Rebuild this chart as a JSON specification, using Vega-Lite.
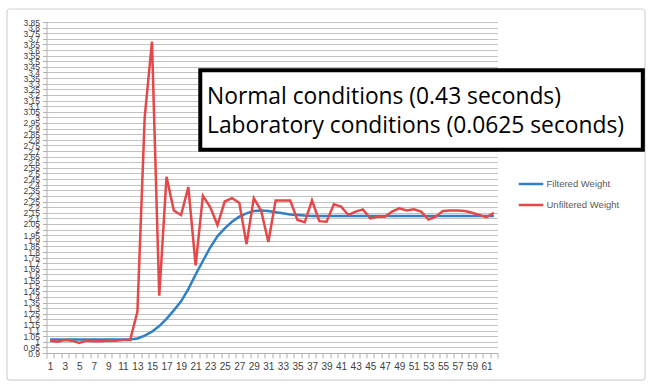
{
  "$schema": "https://vega.github.io/schema/vega-lite/v6.json",
  "width": 451,
  "height": 331,
  "autosize": {"type": "none"},
  "padding": {"left": 46.5, "top": 22, "right": 153.5, "bottom": 35},
  "background": "white",
  "config": {
    "view": {"stroke": null},
    "font": "Liberation Sans"
  },
  "resolve": {"scale": {"x": "independent", "y": "independent"}},
  "datasets": {
    "weights": [
      {"x":1,"series":"Filtered Weight","value":1.02},{"x":2,"series":"Filtered Weight","value":1.02},{"x":3,"series":"Filtered Weight","value":1.02},{"x":4,"series":"Filtered Weight","value":1.02},{"x":5,"series":"Filtered Weight","value":1.02},{"x":6,"series":"Filtered Weight","value":1.02},{"x":7,"series":"Filtered Weight","value":1.02},{"x":8,"series":"Filtered Weight","value":1.02},{"x":9,"series":"Filtered Weight","value":1.02},{"x":10,"series":"Filtered Weight","value":1.02},
      {"x":11,"series":"Filtered Weight","value":1.02},{"x":12,"series":"Filtered Weight","value":1.02},{"x":13,"series":"Filtered Weight","value":1.03},{"x":14,"series":"Filtered Weight","value":1.055},{"x":15,"series":"Filtered Weight","value":1.09},{"x":16,"series":"Filtered Weight","value":1.14},{"x":17,"series":"Filtered Weight","value":1.205},{"x":18,"series":"Filtered Weight","value":1.28},{"x":19,"series":"Filtered Weight","value":1.36},{"x":20,"series":"Filtered Weight","value":1.47},
      {"x":21,"series":"Filtered Weight","value":1.6},{"x":22,"series":"Filtered Weight","value":1.72},{"x":23,"series":"Filtered Weight","value":1.84},{"x":24,"series":"Filtered Weight","value":1.94},{"x":25,"series":"Filtered Weight","value":2.01},{"x":26,"series":"Filtered Weight","value":2.07},{"x":27,"series":"Filtered Weight","value":2.115},{"x":28,"series":"Filtered Weight","value":2.145},{"x":29,"series":"Filtered Weight","value":2.165},{"x":30,"series":"Filtered Weight","value":2.17},
      {"x":31,"series":"Filtered Weight","value":2.165},{"x":32,"series":"Filtered Weight","value":2.155},{"x":33,"series":"Filtered Weight","value":2.145},{"x":34,"series":"Filtered Weight","value":2.135},{"x":35,"series":"Filtered Weight","value":2.13},{"x":36,"series":"Filtered Weight","value":2.125},{"x":37,"series":"Filtered Weight","value":2.122},{"x":38,"series":"Filtered Weight","value":2.12},{"x":39,"series":"Filtered Weight","value":2.12},{"x":40,"series":"Filtered Weight","value":2.12},
      {"x":41,"series":"Filtered Weight","value":2.12},{"x":42,"series":"Filtered Weight","value":2.12},{"x":43,"series":"Filtered Weight","value":2.12},{"x":44,"series":"Filtered Weight","value":2.12},{"x":45,"series":"Filtered Weight","value":2.12},{"x":46,"series":"Filtered Weight","value":2.12},{"x":47,"series":"Filtered Weight","value":2.12},{"x":48,"series":"Filtered Weight","value":2.12},{"x":49,"series":"Filtered Weight","value":2.12},{"x":50,"series":"Filtered Weight","value":2.12},
      {"x":51,"series":"Filtered Weight","value":2.12},{"x":52,"series":"Filtered Weight","value":2.12},{"x":53,"series":"Filtered Weight","value":2.12},{"x":54,"series":"Filtered Weight","value":2.12},{"x":55,"series":"Filtered Weight","value":2.12},{"x":56,"series":"Filtered Weight","value":2.12},{"x":57,"series":"Filtered Weight","value":2.12},{"x":58,"series":"Filtered Weight","value":2.12},{"x":59,"series":"Filtered Weight","value":2.12},{"x":60,"series":"Filtered Weight","value":2.12},
      {"x":61,"series":"Filtered Weight","value":2.12},{"x":62,"series":"Filtered Weight","value":2.12},
      {"x":1,"series":"Unfiltered Weight","value":1.01},{"x":2,"series":"Unfiltered Weight","value":1.0},{"x":3,"series":"Unfiltered Weight","value":1.015},{"x":4,"series":"Unfiltered Weight","value":1.01},{"x":5,"series":"Unfiltered Weight","value":0.99},{"x":6,"series":"Unfiltered Weight","value":1.01},{"x":7,"series":"Unfiltered Weight","value":1.005},{"x":8,"series":"Unfiltered Weight","value":1.005},{"x":9,"series":"Unfiltered Weight","value":1.01},{"x":10,"series":"Unfiltered Weight","value":1.01},
      {"x":11,"series":"Unfiltered Weight","value":1.015},{"x":12,"series":"Unfiltered Weight","value":1.015},{"x":13,"series":"Unfiltered Weight","value":1.27},{"x":14,"series":"Unfiltered Weight","value":3.0},{"x":15,"series":"Unfiltered Weight","value":3.675},{"x":16,"series":"Unfiltered Weight","value":1.41},{"x":17,"series":"Unfiltered Weight","value":2.47},{"x":18,"series":"Unfiltered Weight","value":2.17},{"x":19,"series":"Unfiltered Weight","value":2.13},{"x":20,"series":"Unfiltered Weight","value":2.38},
      {"x":21,"series":"Unfiltered Weight","value":1.68},{"x":22,"series":"Unfiltered Weight","value":2.3},{"x":23,"series":"Unfiltered Weight","value":2.2},{"x":24,"series":"Unfiltered Weight","value":2.04},{"x":25,"series":"Unfiltered Weight","value":2.25},{"x":26,"series":"Unfiltered Weight","value":2.28},{"x":27,"series":"Unfiltered Weight","value":2.24},{"x":28,"series":"Unfiltered Weight","value":1.87},{"x":29,"series":"Unfiltered Weight","value":2.28},{"x":30,"series":"Unfiltered Weight","value":2.17},
      {"x":31,"series":"Unfiltered Weight","value":1.89},{"x":32,"series":"Unfiltered Weight","value":2.26},{"x":33,"series":"Unfiltered Weight","value":2.26},{"x":34,"series":"Unfiltered Weight","value":2.26},{"x":35,"series":"Unfiltered Weight","value":2.085},{"x":36,"series":"Unfiltered Weight","value":2.065},{"x":37,"series":"Unfiltered Weight","value":2.26},{"x":38,"series":"Unfiltered Weight","value":2.075},{"x":39,"series":"Unfiltered Weight","value":2.07},{"x":40,"series":"Unfiltered Weight","value":2.225},
      {"x":41,"series":"Unfiltered Weight","value":2.205},{"x":42,"series":"Unfiltered Weight","value":2.13},{"x":43,"series":"Unfiltered Weight","value":2.16},{"x":44,"series":"Unfiltered Weight","value":2.18},{"x":45,"series":"Unfiltered Weight","value":2.1},{"x":46,"series":"Unfiltered Weight","value":2.115},{"x":47,"series":"Unfiltered Weight","value":2.115},{"x":48,"series":"Unfiltered Weight","value":2.16},{"x":49,"series":"Unfiltered Weight","value":2.19},{"x":50,"series":"Unfiltered Weight","value":2.17},
      {"x":51,"series":"Unfiltered Weight","value":2.18},{"x":52,"series":"Unfiltered Weight","value":2.16},{"x":53,"series":"Unfiltered Weight","value":2.09},{"x":54,"series":"Unfiltered Weight","value":2.115},{"x":55,"series":"Unfiltered Weight","value":2.165},{"x":56,"series":"Unfiltered Weight","value":2.17},{"x":57,"series":"Unfiltered Weight","value":2.17},{"x":58,"series":"Unfiltered Weight","value":2.165},{"x":59,"series":"Unfiltered Weight","value":2.15},{"x":60,"series":"Unfiltered Weight","value":2.13},
      {"x":61,"series":"Unfiltered Weight","value":2.11},{"x":62,"series":"Unfiltered Weight","value":2.15}
    ]
  },
  "layer": [
    {
      "data": {"name": "weights"},
      "mark": {"type": "line", "strokeWidth": 2.5, "interpolate": "linear"},
      "encoding": {
        "x": {
          "field": "x", "type": "quantitative",
          "scale": {"domain": [0.5, 62.5], "nice": false, "zero": false},
          "axis": {
            "title": null, "grid": false,
            "values": [0.5,1.5,2.5,3.5,4.5,5.5,6.5,7.5,8.5,9.5,10.5,11.5,12.5,13.5,14.5,15.5,16.5,17.5,18.5,19.5,20.5,21.5,22.5,23.5,24.5,25.5,26.5,27.5,28.5,29.5,30.5,31.5,32.5,33.5,34.5,35.5,36.5,37.5,38.5,39.5,40.5,41.5,42.5,43.5,44.5,45.5,46.5,47.5,48.5,49.5,50.5,51.5,52.5,53.5,54.5,55.5,56.5,57.5,58.5,59.5,60.5,61.5,62.5],
            "labelExpr": "(datum.value % 2 == 0.5 && datum.value < 62) ? toString(datum.value + 0.5) : ''",
            "labelOffset": 3.64,
            "labelFlush": false, "labelBound": false, "labelOverlap": false,
            "labelFontSize": 10, "labelColor": "#404040", "labelPadding": 3,
            "tickSize": 5, "tickColor": "#b0b0b0", "domainColor": "#b0b0b0", "domainWidth": 1
          }
        },
        "y": {
          "field": "value", "type": "quantitative",
          "scale": {"domain": [0.9, 3.85], "nice": false, "zero": false},
          "axis": {
            "title": null,
            "values": [0.9,0.95,1,1.05,1.1,1.15,1.2,1.25,1.3,1.35,1.4,1.45,1.5,1.55,1.6,1.65,1.7,1.75,1.8,1.85,1.9,1.95,2,2.05,2.1,2.15,2.2,2.25,2.3,2.35,2.4,2.45,2.5,2.55,2.6,2.65,2.7,2.75,2.8,2.85,2.9,2.95,3,3.05,3.1,3.15,3.2,3.25,3.3,3.35,3.4,3.45,3.5,3.55,3.6,3.65,3.7,3.75,3.8,3.85],
            "format": ".2~f",
            "grid": true, "gridColor": "#c2c2c2", "gridWidth": 1,
            "labelOverlap": false, "labelFontSize": 8.5, "labelColor": "#404040", "labelPadding": 3,
            "tickSize": 4, "tickColor": "#b0b0b0", "domainColor": "#b0b0b0"
          }
        },
        "color": {
          "field": "series", "type": "nominal",
          "scale": {"domain": ["Filtered Weight", "Unfiltered Weight"], "range": ["#2f80c6", "#e44848"]},
          "legend": {
            "title": null, "orient": "none", "legendX": 471, "legendY": 154,
            "symbolType": "stroke", "symbolSize": 600, "symbolStrokeWidth": 2.5,
            "labelFontSize": 9.5, "labelColor": "#595959", "labelOffset": 2,
            "rowPadding": 5, "clipHeight": 16
          }
        }
      }
    },
    {
      "data": {"values": [{}]},
      "mark": {"type": "rect", "filled": false, "stroke": "#d4d4d4", "strokeWidth": 1.2, "cornerRadius": 3},
      "encoding": {
        "x": {"datum": -4.93, "type": "quantitative", "axis": null, "scale": {"domain": [0.5, 62.5], "nice": false, "zero": false}},
        "x2": {"datum": 82.78},
        "y": {"datum": 3.966, "type": "quantitative", "axis": null, "scale": {"domain": [0.9, 3.85], "nice": false, "zero": false}},
        "y2": {"datum": 0.659}
      }
    },
    {
      "data": {"values": [{}]},
      "mark": {"type": "rect", "fill": "white", "stroke": "black", "strokeWidth": 4},
      "encoding": {
        "x": {"datum": 21.64, "type": "quantitative", "axis": null, "scale": {"domain": [0.5, 62.5], "nice": false, "zero": false}},
        "x2": {"datum": 82.48},
        "y": {"datum": 3.42, "type": "quantitative", "axis": null, "scale": {"domain": [0.9, 3.85], "nice": false, "zero": false}},
        "y2": {"datum": 2.712}
      }
    },
    {
      "data": {"values": [{}]},
      "mark": {"type": "text", "align": "left", "baseline": "alphabetic", "font": "Open Sans", "fontSize": 22.8, "lineHeight": 28.7, "color": "black"},
      "encoding": {
        "x": {"datum": 22.57, "type": "quantitative", "axis": null, "scale": {"domain": [0.5, 62.5], "nice": false, "zero": false}},
        "y": {"datum": 3.119, "type": "quantitative", "axis": null, "scale": {"domain": [0.9, 3.85], "nice": false, "zero": false}},
        "text": {"value": ["Normal conditions (0.43 seconds)", "Laboratory conditions (0.0625 seconds)"]}
      }
    }
  ]
}
